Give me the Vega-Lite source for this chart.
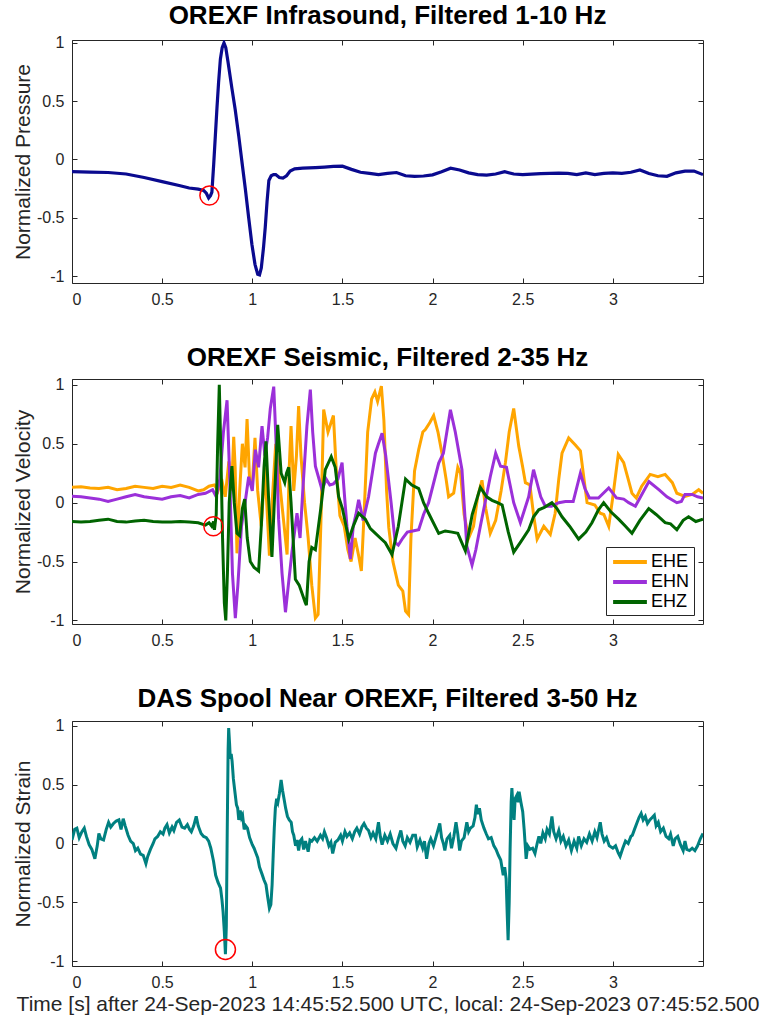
{
  "$schema": "https://vega.github.io/schema/vega-lite/v6.json",
  "background": "white",
  "padding": {"left": 11, "top": 2, "right": 0, "bottom": 0},
  "spacing": 36,
  "resolve": {"legend": {"color": "independent"}},
  "config": {
    "font": "Liberation Sans",
    "view": {"stroke": "#262626", "strokeWidth": 1},
    "axis": {
      "grid": false,
      "domain": false,
      "tickColor": "#262626",
      "tickSize": -5,
      "labelPadding": 13,
      "labelColor": "#262626",
      "labelFont": "Liberation Sans",
      "labelFontSize": 16,
      "titleFont": "Liberation Sans",
      "titleFontSize": 21,
      "titleFontWeight": "normal",
      "titleColor": "#262626",
      "titlePadding": 3,
      "format": "~g",
      "labelExpr": "replace(datum.label, '−', '-')"
    },
    "title": {"font": "Liberation Sans", "fontSize": 26, "fontWeight": "bold", "color": "black", "anchor": "middle", "offset": 6},
    "legend": {"labelFont": "Liberation Sans", "labelFontSize": 18, "labelColor": "black"}
  },
  "datasets": {
    "infra": [
      {"t":0,"v":-0.105},{"t":0.1,"v":-0.108},{"t":0.2,"v":-0.112},{"t":0.3,"v":-0.125},{"t":0.4,"v":-0.155},{"t":0.5,"v":-0.19},{"t":0.6,"v":-0.225},{"t":0.65,"v":-0.245},{"t":0.7,"v":-0.255},{"t":0.73,"v":-0.265},{"t":0.745,"v":-0.29},{"t":0.758,"v":-0.33},{"t":0.768,"v":-0.31},{"t":0.776,"v":-0.28},{"t":0.786,"v":-0.04},{"t":0.795,"v":0.2},{"t":0.804,"v":0.44},{"t":0.813,"v":0.66},{"t":0.823,"v":0.86},{"t":0.833,"v":0.96},{"t":0.843,"v":1.0},{"t":0.853,"v":0.96},{"t":0.865,"v":0.84},{"t":0.887,"v":0.61},{"t":0.905,"v":0.43},{"t":0.925,"v":0.2},{"t":0.945,"v":-0.05},{"t":0.962,"v":-0.26},{"t":0.98,"v":-0.5},{"t":0.998,"v":-0.73},{"t":1.015,"v":-0.9},{"t":1.03,"v":-0.985},{"t":1.04,"v":-0.99},{"t":1.05,"v":-0.93},{"t":1.062,"v":-0.76},{"t":1.072,"v":-0.58},{"t":1.082,"v":-0.36},{"t":1.092,"v":-0.18},{"t":1.105,"v":-0.14},{"t":1.118,"v":-0.13},{"t":1.13,"v":-0.13},{"t":1.15,"v":-0.155},{"t":1.17,"v":-0.16},{"t":1.19,"v":-0.14},{"t":1.21,"v":-0.1},{"t":1.235,"v":-0.08},{"t":1.28,"v":-0.075},{"t":1.35,"v":-0.07},{"t":1.4,"v":-0.065},{"t":1.45,"v":-0.06},{"t":1.5,"v":-0.058},{"t":1.55,"v":-0.085},{"t":1.6,"v":-0.11},{"t":1.65,"v":-0.12},{"t":1.7,"v":-0.13},{"t":1.75,"v":-0.12},{"t":1.8,"v":-0.112},{"t":1.85,"v":-0.14},{"t":1.9,"v":-0.145},{"t":1.95,"v":-0.142},{"t":2.0,"v":-0.132},{"t":2.05,"v":-0.105},{"t":2.1,"v":-0.075},{"t":2.15,"v":-0.09},{"t":2.2,"v":-0.115},{"t":2.25,"v":-0.13},{"t":2.3,"v":-0.135},{"t":2.35,"v":-0.125},{"t":2.4,"v":-0.105},{"t":2.45,"v":-0.125},{"t":2.5,"v":-0.13},{"t":2.55,"v":-0.125},{"t":2.6,"v":-0.122},{"t":2.65,"v":-0.12},{"t":2.7,"v":-0.118},{"t":2.75,"v":-0.12},{"t":2.8,"v":-0.13},{"t":2.85,"v":-0.115},{"t":2.9,"v":-0.13},{"t":2.95,"v":-0.12},{"t":3.0,"v":-0.115},{"t":3.05,"v":-0.12},{"t":3.1,"v":-0.11},{"t":3.15,"v":-0.09},{"t":3.2,"v":-0.12},{"t":3.25,"v":-0.14},{"t":3.3,"v":-0.145},{"t":3.35,"v":-0.115},{"t":3.4,"v":-0.1},{"t":3.45,"v":-0.1},{"t":3.5,"v":-0.13}
    ],
    "seis": [
      {"ch":"EHE","t":0,"v":0.13},{"ch":"EHE","t":0.05,"v":0.135},{"ch":"EHE","t":0.1,"v":0.125},{"ch":"EHE","t":0.15,"v":0.12},{"ch":"EHE","t":0.2,"v":0.13},{"ch":"EHE","t":0.25,"v":0.11},{"ch":"EHE","t":0.3,"v":0.12},{"ch":"EHE","t":0.35,"v":0.14},{"ch":"EHE","t":0.4,"v":0.13},{"ch":"EHE","t":0.45,"v":0.12},{"ch":"EHE","t":0.5,"v":0.14},{"ch":"EHE","t":0.55,"v":0.13},{"ch":"EHE","t":0.6,"v":0.15},{"ch":"EHE","t":0.65,"v":0.13},{"ch":"EHE","t":0.7,"v":0.1},{"ch":"EHE","t":0.73,"v":0.11},{"ch":"EHE","t":0.76,"v":0.14},{"ch":"EHE","t":0.79,"v":0.15},{"ch":"EHE","t":0.81,"v":0.1},{"ch":"EHE","t":0.83,"v":0.2},{"ch":"EHE","t":0.85,"v":0.05},{"ch":"EHE","t":0.87,"v":0.35},{"ch":"EHE","t":0.885,"v":0.1},{"ch":"EHE","t":0.897,"v":0.56},{"ch":"EHE","t":0.905,"v":0.3},{"ch":"EHE","t":0.915,"v":-0.43},{"ch":"EHE","t":0.93,"v":0.1},{"ch":"EHE","t":0.945,"v":0.5},{"ch":"EHE","t":0.96,"v":0.3},{"ch":"EHE","t":0.971,"v":0.71},{"ch":"EHE","t":0.985,"v":0.2},{"ch":"EHE","t":1.0,"v":0.15},{"ch":"EHE","t":1.015,"v":0.55},{"ch":"EHE","t":1.03,"v":0.1},{"ch":"EHE","t":1.05,"v":-0.2},{"ch":"EHE","t":1.07,"v":0.3},{"ch":"EHE","t":1.095,"v":-0.45},{"ch":"EHE","t":1.11,"v":0.0},{"ch":"EHE","t":1.13,"v":0.5},{"ch":"EHE","t":1.15,"v":0.2},{"ch":"EHE","t":1.17,"v":-0.1},{"ch":"EHE","t":1.193,"v":-0.44},{"ch":"EHE","t":1.205,"v":0.3},{"ch":"EHE","t":1.215,"v":0.65},{"ch":"EHE","t":1.23,"v":0.1},{"ch":"EHE","t":1.245,"v":0.4},{"ch":"EHE","t":1.257,"v":0.82},{"ch":"EHE","t":1.27,"v":0.4},{"ch":"EHE","t":1.29,"v":0.0},{"ch":"EHE","t":1.31,"v":-0.3},{"ch":"EHE","t":1.33,"v":-0.7},{"ch":"EHE","t":1.35,"v":-0.98},{"ch":"EHE","t":1.365,"v":-0.95},{"ch":"EHE","t":1.38,"v":-0.2},{"ch":"EHE","t":1.396,"v":0.79},{"ch":"EHE","t":1.42,"v":0.6},{"ch":"EHE","t":1.45,"v":0.74},{"ch":"EHE","t":1.465,"v":0.3},{"ch":"EHE","t":1.486,"v":-0.11},{"ch":"EHE","t":1.51,"v":-0.2},{"ch":"EHE","t":1.53,"v":-0.4},{"ch":"EHE","t":1.548,"v":-0.5},{"ch":"EHE","t":1.57,"v":-0.3},{"ch":"EHE","t":1.59,"v":-0.45},{"ch":"EHE","t":1.605,"v":-0.58},{"ch":"EHE","t":1.62,"v":-0.1},{"ch":"EHE","t":1.64,"v":0.6},{"ch":"EHE","t":1.662,"v":0.88},{"ch":"EHE","t":1.68,"v":0.94},{"ch":"EHE","t":1.695,"v":0.86},{"ch":"EHE","t":1.716,"v":0.99},{"ch":"EHE","t":1.73,"v":0.7},{"ch":"EHE","t":1.745,"v":0.1},{"ch":"EHE","t":1.757,"v":-0.21},{"ch":"EHE","t":1.78,"v":-0.5},{"ch":"EHE","t":1.81,"v":-0.7},{"ch":"EHE","t":1.835,"v":-0.75},{"ch":"EHE","t":1.85,"v":-0.92},{"ch":"EHE","t":1.867,"v":-0.95},{"ch":"EHE","t":1.88,"v":-0.3},{"ch":"EHE","t":1.9,"v":0.27},{"ch":"EHE","t":1.923,"v":0.45},{"ch":"EHE","t":1.946,"v":0.6},{"ch":"EHE","t":1.96,"v":0.62},{"ch":"EHE","t":1.985,"v":0.68},{"ch":"EHE","t":2.006,"v":0.74},{"ch":"EHE","t":2.03,"v":0.6},{"ch":"EHE","t":2.052,"v":0.42},{"ch":"EHE","t":2.075,"v":0.2},{"ch":"EHE","t":2.089,"v":0.05},{"ch":"EHE","t":2.117,"v":0.08},{"ch":"EHE","t":2.14,"v":0.3},{"ch":"EHE","t":2.155,"v":0.25},{"ch":"EHE","t":2.175,"v":-0.1},{"ch":"EHE","t":2.2,"v":-0.3},{"ch":"EHE","t":2.227,"v":-0.2},{"ch":"EHE","t":2.25,"v":0.05},{"ch":"EHE","t":2.274,"v":0.19},{"ch":"EHE","t":2.295,"v":-0.05},{"ch":"EHE","t":2.32,"v":-0.26},{"ch":"EHE","t":2.35,"v":-0.15},{"ch":"EHE","t":2.38,"v":0.1},{"ch":"EHE","t":2.404,"v":0.34},{"ch":"EHE","t":2.425,"v":0.6},{"ch":"EHE","t":2.45,"v":0.8},{"ch":"EHE","t":2.478,"v":0.48},{"ch":"EHE","t":2.5,"v":0.3},{"ch":"EHE","t":2.515,"v":0.17},{"ch":"EHE","t":2.54,"v":0.15},{"ch":"EHE","t":2.56,"v":-0.1},{"ch":"EHE","t":2.58,"v":-0.31},{"ch":"EHE","t":2.617,"v":-0.2},{"ch":"EHE","t":2.653,"v":-0.27},{"ch":"EHE","t":2.68,"v":-0.09},{"ch":"EHE","t":2.7,"v":0.2},{"ch":"EHE","t":2.718,"v":0.42},{"ch":"EHE","t":2.755,"v":0.55},{"ch":"EHE","t":2.792,"v":0.49},{"ch":"EHE","t":2.82,"v":0.44},{"ch":"EHE","t":2.84,"v":0.2},{"ch":"EHE","t":2.857,"v":0.0},{"ch":"EHE","t":2.9,"v":-0.02},{"ch":"EHE","t":2.93,"v":-0.09},{"ch":"EHE","t":2.95,"v":-0.1},{"ch":"EHE","t":2.977,"v":-0.2},{"ch":"EHE","t":3.0,"v":0.05},{"ch":"EHE","t":3.03,"v":0.41},{"ch":"EHE","t":3.06,"v":0.34},{"ch":"EHE","t":3.085,"v":0.2},{"ch":"EHE","t":3.106,"v":0.08},{"ch":"EHE","t":3.13,"v":0.04},{"ch":"EHE","t":3.16,"v":0.14},{"ch":"EHE","t":3.207,"v":0.24},{"ch":"EHE","t":3.25,"v":0.22},{"ch":"EHE","t":3.29,"v":0.24},{"ch":"EHE","t":3.33,"v":0.17},{"ch":"EHE","t":3.355,"v":0.08},{"ch":"EHE","t":3.4,"v":0.054},{"ch":"EHE","t":3.44,"v":0.07},{"ch":"EHE","t":3.476,"v":0.11},{"ch":"EHE","t":3.5,"v":0.08},
      {"ch":"EHN","t":0,"v":0.055},{"ch":"EHN","t":0.05,"v":0.05},{"ch":"EHN","t":0.1,"v":0.04},{"ch":"EHN","t":0.15,"v":0.03},{"ch":"EHN","t":0.2,"v":0.01},{"ch":"EHN","t":0.25,"v":0.03},{"ch":"EHN","t":0.3,"v":0.05},{"ch":"EHN","t":0.35,"v":0.07},{"ch":"EHN","t":0.4,"v":0.05},{"ch":"EHN","t":0.45,"v":0.04},{"ch":"EHN","t":0.5,"v":0.03},{"ch":"EHN","t":0.55,"v":0.05},{"ch":"EHN","t":0.6,"v":0.06},{"ch":"EHN","t":0.65,"v":0.04},{"ch":"EHN","t":0.7,"v":0.07},{"ch":"EHN","t":0.74,"v":0.08},{"ch":"EHN","t":0.78,"v":0.11},{"ch":"EHN","t":0.8,"v":0.05},{"ch":"EHN","t":0.82,"v":0.2},{"ch":"EHN","t":0.84,"v":0.6},{"ch":"EHN","t":0.86,"v":0.87},{"ch":"EHN","t":0.875,"v":0.2},{"ch":"EHN","t":0.89,"v":-0.6},{"ch":"EHN","t":0.906,"v":-0.98},{"ch":"EHN","t":0.92,"v":-0.7},{"ch":"EHN","t":0.94,"v":-0.2},{"ch":"EHN","t":0.96,"v":0.0},{"ch":"EHN","t":0.98,"v":0.22},{"ch":"EHN","t":1.0,"v":0.1},{"ch":"EHN","t":1.017,"v":0.45},{"ch":"EHN","t":1.035,"v":0.3},{"ch":"EHN","t":1.054,"v":0.65},{"ch":"EHN","t":1.07,"v":0.4},{"ch":"EHN","t":1.085,"v":0.55},{"ch":"EHN","t":1.1,"v":0.8},{"ch":"EHN","t":1.119,"v":0.985},{"ch":"EHN","t":1.135,"v":0.4},{"ch":"EHN","t":1.146,"v":-0.14},{"ch":"EHN","t":1.165,"v":-0.6},{"ch":"EHN","t":1.184,"v":-0.93},{"ch":"EHN","t":1.2,"v":-0.7},{"ch":"EHN","t":1.22,"v":-0.42},{"ch":"EHN","t":1.248,"v":-0.09},{"ch":"EHN","t":1.265,"v":-0.3},{"ch":"EHN","t":1.28,"v":0.1},{"ch":"EHN","t":1.303,"v":0.65},{"ch":"EHN","t":1.322,"v":0.96},{"ch":"EHN","t":1.335,"v":0.6},{"ch":"EHN","t":1.35,"v":0.31},{"ch":"EHN","t":1.387,"v":0.11},{"ch":"EHN","t":1.41,"v":0.2},{"ch":"EHN","t":1.43,"v":0.15},{"ch":"EHN","t":1.45,"v":0.16},{"ch":"EHN","t":1.475,"v":0.2},{"ch":"EHN","t":1.498,"v":0.34},{"ch":"EHN","t":1.512,"v":0.05},{"ch":"EHN","t":1.525,"v":-0.2},{"ch":"EHN","t":1.544,"v":-0.48},{"ch":"EHN","t":1.56,"v":-0.2},{"ch":"EHN","t":1.575,"v":-0.1},{"ch":"EHN","t":1.59,"v":0.025},{"ch":"EHN","t":1.615,"v":-0.15},{"ch":"EHN","t":1.645,"v":0.05},{"ch":"EHN","t":1.683,"v":0.42},{"ch":"EHN","t":1.7,"v":0.5},{"ch":"EHN","t":1.72,"v":0.59},{"ch":"EHN","t":1.74,"v":0.4},{"ch":"EHN","t":1.77,"v":0.0},{"ch":"EHN","t":1.793,"v":-0.34},{"ch":"EHN","t":1.81,"v":-0.36},{"ch":"EHN","t":1.835,"v":-0.3},{"ch":"EHN","t":1.86,"v":-0.25},{"ch":"EHN","t":1.89,"v":-0.24},{"ch":"EHN","t":1.923,"v":-0.23},{"ch":"EHN","t":1.95,"v":-0.1},{"ch":"EHN","t":1.978,"v":0.0},{"ch":"EHN","t":2.034,"v":0.336},{"ch":"EHN","t":2.06,"v":0.42},{"ch":"EHN","t":2.099,"v":0.788},{"ch":"EHN","t":2.126,"v":0.6},{"ch":"EHN","t":2.163,"v":0.28},{"ch":"EHN","t":2.19,"v":-0.37},{"ch":"EHN","t":2.219,"v":-0.53},{"ch":"EHN","t":2.24,"v":-0.4},{"ch":"EHN","t":2.265,"v":-0.2},{"ch":"EHN","t":2.32,"v":0.22},{"ch":"EHN","t":2.35,"v":0.42},{"ch":"EHN","t":2.377,"v":0.31},{"ch":"EHN","t":2.41,"v":0.3},{"ch":"EHN","t":2.45,"v":0.0},{"ch":"EHN","t":2.487,"v":-0.17},{"ch":"EHN","t":2.533,"v":0.05},{"ch":"EHN","t":2.56,"v":0.28},{"ch":"EHN","t":2.6,"v":0.05},{"ch":"EHN","t":2.625,"v":-0.03},{"ch":"EHN","t":2.66,"v":-0.03},{"ch":"EHN","t":2.7,"v":0.0},{"ch":"EHN","t":2.737,"v":0.01},{"ch":"EHN","t":2.78,"v":0.01},{"ch":"EHN","t":2.82,"v":0.25},{"ch":"EHN","t":2.845,"v":0.12},{"ch":"EHN","t":2.87,"v":0.04},{"ch":"EHN","t":2.92,"v":0.04},{"ch":"EHN","t":2.977,"v":0.125},{"ch":"EHN","t":3.02,"v":0.04},{"ch":"EHN","t":3.06,"v":0.03},{"ch":"EHN","t":3.088,"v":0.0},{"ch":"EHN","t":3.125,"v":-0.03},{"ch":"EHN","t":3.2,"v":0.18},{"ch":"EHN","t":3.255,"v":0.11},{"ch":"EHN","t":3.3,"v":0.05},{"ch":"EHN","t":3.355,"v":0.0},{"ch":"EHN","t":3.38,"v":0.01},{"ch":"EHN","t":3.4,"v":0.07},{"ch":"EHN","t":3.44,"v":0.07},{"ch":"EHN","t":3.47,"v":0.05},{"ch":"EHN","t":3.5,"v":0.04},
      {"ch":"EHZ","t":0,"v":-0.16},{"ch":"EHZ","t":0.05,"v":-0.165},{"ch":"EHZ","t":0.1,"v":-0.16},{"ch":"EHZ","t":0.15,"v":-0.15},{"ch":"EHZ","t":0.2,"v":-0.14},{"ch":"EHZ","t":0.25,"v":-0.16},{"ch":"EHZ","t":0.3,"v":-0.165},{"ch":"EHZ","t":0.35,"v":-0.155},{"ch":"EHZ","t":0.4,"v":-0.15},{"ch":"EHZ","t":0.45,"v":-0.16},{"ch":"EHZ","t":0.5,"v":-0.165},{"ch":"EHZ","t":0.55,"v":-0.165},{"ch":"EHZ","t":0.6,"v":-0.16},{"ch":"EHZ","t":0.65,"v":-0.165},{"ch":"EHZ","t":0.7,"v":-0.17},{"ch":"EHZ","t":0.74,"v":-0.19},{"ch":"EHZ","t":0.76,"v":-0.17},{"ch":"EHZ","t":0.775,"v":-0.2},{"ch":"EHZ","t":0.785,"v":-0.16},{"ch":"EHZ","t":0.79,"v":-0.23},{"ch":"EHZ","t":0.8,"v":-0.1},{"ch":"EHZ","t":0.808,"v":0.5},{"ch":"EHZ","t":0.817,"v":1.0},{"ch":"EHZ","t":0.826,"v":0.4},{"ch":"EHZ","t":0.835,"v":-0.3},{"ch":"EHZ","t":0.845,"v":-0.85},{"ch":"EHZ","t":0.853,"v":-1.0},{"ch":"EHZ","t":0.862,"v":-0.6},{"ch":"EHZ","t":0.872,"v":0.0},{"ch":"EHZ","t":0.887,"v":0.31},{"ch":"EHZ","t":0.9,"v":0.0},{"ch":"EHZ","t":0.915,"v":-0.26},{"ch":"EHZ","t":0.93,"v":-0.28},{"ch":"EHZ","t":0.945,"v":-0.05},{"ch":"EHZ","t":0.958,"v":0.03},{"ch":"EHZ","t":0.972,"v":-0.3},{"ch":"EHZ","t":0.989,"v":-0.5},{"ch":"EHZ","t":1.01,"v":-0.55},{"ch":"EHZ","t":1.035,"v":-0.58},{"ch":"EHZ","t":1.05,"v":-0.2},{"ch":"EHZ","t":1.065,"v":0.3},{"ch":"EHZ","t":1.076,"v":0.52},{"ch":"EHZ","t":1.09,"v":0.05},{"ch":"EHZ","t":1.109,"v":-0.46},{"ch":"EHZ","t":1.125,"v":0.1},{"ch":"EHZ","t":1.141,"v":0.66},{"ch":"EHZ","t":1.16,"v":0.25},{"ch":"EHZ","t":1.18,"v":0.17},{"ch":"EHZ","t":1.19,"v":0.25},{"ch":"EHZ","t":1.202,"v":0.3},{"ch":"EHZ","t":1.215,"v":0.0},{"ch":"EHZ","t":1.239,"v":-0.65},{"ch":"EHZ","t":1.26,"v":-0.7},{"ch":"EHZ","t":1.294,"v":-0.85},{"ch":"EHZ","t":1.3,"v":-0.87},{"ch":"EHZ","t":1.315,"v":-0.5},{"ch":"EHZ","t":1.33,"v":-0.38},{"ch":"EHZ","t":1.35,"v":-0.4},{"ch":"EHZ","t":1.38,"v":-0.05},{"ch":"EHZ","t":1.405,"v":0.28},{"ch":"EHZ","t":1.438,"v":0.39},{"ch":"EHZ","t":1.46,"v":0.3},{"ch":"EHZ","t":1.479,"v":0.05},{"ch":"EHZ","t":1.5,"v":-0.05},{"ch":"EHZ","t":1.535,"v":-0.31},{"ch":"EHZ","t":1.56,"v":-0.2},{"ch":"EHZ","t":1.59,"v":-0.09},{"ch":"EHZ","t":1.627,"v":-0.14},{"ch":"EHZ","t":1.655,"v":-0.22},{"ch":"EHZ","t":1.683,"v":-0.26},{"ch":"EHZ","t":1.71,"v":-0.3},{"ch":"EHZ","t":1.738,"v":-0.34},{"ch":"EHZ","t":1.775,"v":-0.44},{"ch":"EHZ","t":1.81,"v":-0.2},{"ch":"EHZ","t":1.85,"v":0.2},{"ch":"EHZ","t":1.885,"v":0.15},{"ch":"EHZ","t":1.923,"v":0.12},{"ch":"EHZ","t":1.95,"v":0.0},{"ch":"EHZ","t":1.978,"v":-0.09},{"ch":"EHZ","t":2.034,"v":-0.26},{"ch":"EHZ","t":2.07,"v":-0.24},{"ch":"EHZ","t":2.108,"v":-0.25},{"ch":"EHZ","t":2.14,"v":-0.26},{"ch":"EHZ","t":2.182,"v":-0.41},{"ch":"EHZ","t":2.22,"v":-0.1},{"ch":"EHZ","t":2.265,"v":0.13},{"ch":"EHZ","t":2.3,"v":0.05},{"ch":"EHZ","t":2.33,"v":0.02},{"ch":"EHZ","t":2.36,"v":0.0},{"ch":"EHZ","t":2.386,"v":-0.02},{"ch":"EHZ","t":2.42,"v":-0.25},{"ch":"EHZ","t":2.45,"v":-0.42},{"ch":"EHZ","t":2.49,"v":-0.33},{"ch":"EHZ","t":2.533,"v":-0.23},{"ch":"EHZ","t":2.56,"v":-0.12},{"ch":"EHZ","t":2.589,"v":-0.06},{"ch":"EHZ","t":2.62,"v":-0.04},{"ch":"EHZ","t":2.662,"v":0.0},{"ch":"EHZ","t":2.69,"v":-0.05},{"ch":"EHZ","t":2.718,"v":-0.12},{"ch":"EHZ","t":2.76,"v":-0.2},{"ch":"EHZ","t":2.81,"v":-0.31},{"ch":"EHZ","t":2.85,"v":-0.25},{"ch":"EHZ","t":2.884,"v":-0.17},{"ch":"EHZ","t":2.92,"v":-0.06},{"ch":"EHZ","t":2.949,"v":0.0},{"ch":"EHZ","t":2.99,"v":-0.08},{"ch":"EHZ","t":3.032,"v":-0.14},{"ch":"EHZ","t":3.07,"v":-0.2},{"ch":"EHZ","t":3.106,"v":-0.26},{"ch":"EHZ","t":3.15,"v":-0.15},{"ch":"EHZ","t":3.199,"v":-0.05},{"ch":"EHZ","t":3.24,"v":-0.1},{"ch":"EHZ","t":3.29,"v":-0.17},{"ch":"EHZ","t":3.32,"v":-0.18},{"ch":"EHZ","t":3.355,"v":-0.23},{"ch":"EHZ","t":3.39,"v":-0.15},{"ch":"EHZ","t":3.42,"v":-0.12},{"ch":"EHZ","t":3.46,"v":-0.16},{"ch":"EHZ","t":3.5,"v":-0.14}
    ],
    "das": [
      {"t":0,"v":0.03},{"t":0.015,"v":0.12},{"t":0.027,"v":0.13},{"t":0.04,"v":0.05},{"t":0.055,"v":0.1},{"t":0.068,"v":0.13},{"t":0.08,"v":0.06},{"t":0.095,"v":-0.01},{"t":0.11,"v":-0.05},{"t":0.127,"v":-0.13},{"t":0.14,"v":-0.02},{"t":0.149,"v":0.085},{"t":0.16,"v":0.04},{"t":0.175,"v":0.03},{"t":0.19,"v":0.12},{"t":0.203,"v":0.18},{"t":0.215,"v":0.14},{"t":0.23,"v":0.17},{"t":0.245,"v":0.19},{"t":0.26,"v":0.2},{"t":0.272,"v":0.12},{"t":0.284,"v":0.21},{"t":0.295,"v":0.15},{"t":0.311,"v":0.07},{"t":0.325,"v":0.02},{"t":0.34,"v":0.0},{"t":0.352,"v":-0.06},{"t":0.365,"v":-0.04},{"t":0.38,"v":-0.09},{"t":0.395,"v":-0.1},{"t":0.41,"v":-0.17},{"t":0.42,"v":-0.11},{"t":0.435,"v":-0.05},{"t":0.45,"v":0.0},{"t":0.46,"v":0.04},{"t":0.475,"v":0.06},{"t":0.49,"v":0.1},{"t":0.505,"v":0.08},{"t":0.515,"v":0.13},{"t":0.527,"v":0.16},{"t":0.54,"v":0.09},{"t":0.555,"v":0.14},{"t":0.565,"v":0.11},{"t":0.58,"v":0.18},{"t":0.595,"v":0.2},{"t":0.61,"v":0.14},{"t":0.625,"v":0.13},{"t":0.64,"v":0.16},{"t":0.652,"v":0.12},{"t":0.662,"v":0.1},{"t":0.675,"v":0.15},{"t":0.689,"v":0.23},{"t":0.7,"v":0.15},{"t":0.716,"v":0.085},{"t":0.73,"v":0.06},{"t":0.745,"v":0.05},{"t":0.758,"v":0.02},{"t":0.77,"v":-0.04},{"t":0.785,"v":-0.15},{"t":0.797,"v":-0.27},{"t":0.81,"v":-0.33},{"t":0.824,"v":-0.38},{"t":0.832,"v":-0.48},{"t":0.838,"v":-0.58},{"t":0.845,"v":-0.75},{"t":0.851,"v":-0.94},{"t":0.856,"v":-0.7},{"t":0.861,"v":0.1},{"t":0.866,"v":0.8},{"t":0.869,"v":0.98},{"t":0.874,"v":0.85},{"t":0.878,"v":0.72},{"t":0.883,"v":0.76},{"t":0.888,"v":0.7},{"t":0.895,"v":0.55},{"t":0.905,"v":0.42},{"t":0.912,"v":0.33},{"t":0.919,"v":0.3},{"t":0.925,"v":0.2},{"t":0.933,"v":0.28},{"t":0.94,"v":0.22},{"t":0.946,"v":0.24},{"t":0.955,"v":0.12},{"t":0.963,"v":0.15},{"t":0.973,"v":0.13},{"t":0.985,"v":0.05},{"t":1.0,"v":-0.01},{"t":1.01,"v":-0.04},{"t":1.02,"v":-0.08},{"t":1.03,"v":-0.12},{"t":1.04,"v":-0.2},{"t":1.054,"v":-0.26},{"t":1.065,"v":-0.31},{"t":1.076,"v":-0.35},{"t":1.085,"v":-0.45},{"t":1.095,"v":-0.55},{"t":1.103,"v":-0.52},{"t":1.11,"v":-0.35},{"t":1.116,"v":-0.1},{"t":1.122,"v":0.13},{"t":1.128,"v":0.3},{"t":1.135,"v":0.38},{"t":1.142,"v":0.35},{"t":1.15,"v":0.42},{"t":1.16,"v":0.54},{"t":1.168,"v":0.45},{"t":1.176,"v":0.38},{"t":1.185,"v":0.3},{"t":1.195,"v":0.23},{"t":1.205,"v":0.2},{"t":1.216,"v":0.18},{"t":1.223,"v":0.1},{"t":1.23,"v":0.07},{"t":1.24,"v":-0.02},{"t":1.248,"v":0.03},{"t":1.257,"v":-0.06},{"t":1.265,"v":0.02},{"t":1.275,"v":0.04},{"t":1.285,"v":-0.05},{"t":1.295,"v":0.02},{"t":1.31,"v":-0.07},{"t":1.32,"v":0.03},{"t":1.33,"v":0.02},{"t":1.345,"v":0.05},{"t":1.36,"v":0.02},{"t":1.378,"v":0.07},{"t":1.39,"v":0.04},{"t":1.4,"v":0.1},{"t":1.412,"v":0.05},{"t":1.425,"v":-0.02},{"t":1.436,"v":0.01},{"t":1.446,"v":-0.085},{"t":1.46,"v":0.01},{"t":1.475,"v":0.03},{"t":1.49,"v":0.07},{"t":1.5,"v":0.02},{"t":1.514,"v":0.1},{"t":1.525,"v":0.06},{"t":1.54,"v":0.09},{"t":1.555,"v":0.04},{"t":1.568,"v":0.1},{"t":1.58,"v":0.13},{"t":1.595,"v":0.08},{"t":1.608,"v":0.14},{"t":1.62,"v":0.17},{"t":1.633,"v":0.13},{"t":1.645,"v":0.11},{"t":1.658,"v":0.05},{"t":1.67,"v":0.09},{"t":1.685,"v":0.04},{"t":1.7,"v":0.18},{"t":1.71,"v":0.06},{"t":1.72,"v":-0.01},{"t":1.735,"v":0.07},{"t":1.75,"v":0.02},{"t":1.765,"v":0.08},{"t":1.78,"v":0.0},{"t":1.797,"v":-0.04},{"t":1.81,"v":0.04},{"t":1.824,"v":0.11},{"t":1.835,"v":0.02},{"t":1.848,"v":-0.02},{"t":1.86,"v":0.05},{"t":1.875,"v":0.01},{"t":1.89,"v":0.07},{"t":1.905,"v":0.07},{"t":1.915,"v":-0.03},{"t":1.93,"v":0.03},{"t":1.945,"v":-0.04},{"t":1.955,"v":0.02},{"t":1.967,"v":-0.13},{"t":1.98,"v":0.0},{"t":1.99,"v":0.04},{"t":2.005,"v":-0.02},{"t":2.02,"v":0.06},{"t":2.04,"v":0.17},{"t":2.05,"v":0.05},{"t":2.06,"v":0.0},{"t":2.068,"v":-0.06},{"t":2.08,"v":0.04},{"t":2.095,"v":0.07},{"t":2.105,"v":-0.04},{"t":2.118,"v":0.06},{"t":2.13,"v":0.18},{"t":2.14,"v":0.08},{"t":2.15,"v":-0.06},{"t":2.16,"v":0.02},{"t":2.175,"v":0.05},{"t":2.19,"v":0.18},{"t":2.2,"v":0.1},{"t":2.21,"v":0.13},{"t":2.225,"v":0.15},{"t":2.235,"v":0.22},{"t":2.243,"v":0.33},{"t":2.25,"v":0.25},{"t":2.26,"v":0.3},{"t":2.27,"v":0.2},{"t":2.285,"v":0.13},{"t":2.297,"v":0.085},{"t":2.31,"v":0.04},{"t":2.325,"v":0.05},{"t":2.34,"v":-0.02},{"t":2.352,"v":-0.05},{"t":2.365,"v":-0.1},{"t":2.378,"v":-0.14},{"t":2.392,"v":-0.27},{"t":2.4,"v":-0.2},{"t":2.408,"v":-0.3},{"t":2.414,"v":-0.6},{"t":2.419,"v":-0.82},{"t":2.425,"v":-0.5},{"t":2.43,"v":-0.05},{"t":2.436,"v":0.35},{"t":2.44,"v":0.47},{"t":2.446,"v":0.3},{"t":2.452,"v":0.2},{"t":2.458,"v":0.38},{"t":2.468,"v":0.41},{"t":2.475,"v":0.35},{"t":2.48,"v":0.44},{"t":2.49,"v":0.35},{"t":2.5,"v":0.27},{"t":2.508,"v":0.12},{"t":2.519,"v":-0.13},{"t":2.528,"v":-0.02},{"t":2.54,"v":-0.05},{"t":2.555,"v":-0.04},{"t":2.568,"v":-0.085},{"t":2.58,"v":0.0},{"t":2.59,"v":0.06},{"t":2.6,"v":0.0},{"t":2.612,"v":0.09},{"t":2.625,"v":0.04},{"t":2.635,"v":0.12},{"t":2.648,"v":0.08},{"t":2.662,"v":0.23},{"t":2.672,"v":0.1},{"t":2.685,"v":0.04},{"t":2.7,"v":0.11},{"t":2.712,"v":0.02},{"t":2.725,"v":0.06},{"t":2.74,"v":-0.02},{"t":2.755,"v":0.03},{"t":2.77,"v":-0.06},{"t":2.785,"v":0.02},{"t":2.8,"v":-0.04},{"t":2.81,"v":0.06},{"t":2.825,"v":-0.02},{"t":2.84,"v":0.04},{"t":2.855,"v":0.01},{"t":2.87,"v":0.08},{"t":2.885,"v":0.02},{"t":2.9,"v":0.1},{"t":2.912,"v":0.05},{"t":2.93,"v":0.18},{"t":2.94,"v":0.08},{"t":2.952,"v":0.02},{"t":2.965,"v":0.05},{"t":2.98,"v":-0.02},{"t":3.0,"v":-0.04},{"t":3.015,"v":-0.02},{"t":3.03,"v":-0.08},{"t":3.04,"v":-0.11},{"t":3.055,"v":-0.04},{"t":3.07,"v":0.02},{"t":3.085,"v":0.0},{"t":3.1,"v":0.06},{"t":3.108,"v":0.07},{"t":3.12,"v":0.12},{"t":3.135,"v":0.18},{"t":3.145,"v":0.22},{"t":3.157,"v":0.255},{"t":3.168,"v":0.2},{"t":3.18,"v":0.23},{"t":3.192,"v":0.17},{"t":3.205,"v":0.2},{"t":3.218,"v":0.22},{"t":3.23,"v":0.24},{"t":3.24,"v":0.15},{"t":3.252,"v":0.18},{"t":3.265,"v":0.1},{"t":3.28,"v":0.13},{"t":3.295,"v":0.06},{"t":3.31,"v":0.04},{"t":3.32,"v":0.08},{"t":3.335,"v":-0.02},{"t":3.345,"v":0.04},{"t":3.36,"v":0.06},{"t":3.375,"v":-0.01},{"t":3.39,"v":-0.06},{"t":3.4,"v":0.02},{"t":3.41,"v":-0.05},{"t":3.425,"v":-0.06},{"t":3.44,"v":-0.04},{"t":3.455,"v":-0.06},{"t":3.47,"v":-0.02},{"t":3.485,"v":0.04},{"t":3.5,"v":0.085}
    ],
    "circles": [
      {"panel":1,"t":0.762,"v":-0.31},
      {"panel":2,"t":0.784,"v":-0.2},
      {"panel":3,"t":0.851,"v":-0.9}
    ]
  },
  "vconcat": [
    {
      "title": "OREXF Infrasound, Filtered 1-10 Hz",
      "width": 631,
      "height": 243,
      "resolve": {"axis": {"x": "independent", "y": "independent"}},
      "layer": [
        {
          "data": {"name": "infra"},
          "mark": {"type": "line", "color": "#0A0A8F", "strokeWidth": 3.2, "clip": true},
          "encoding": {
            "x": {"field": "t", "type": "quantitative", "scale": {"domain": [0, 3.5], "nice": false, "zero": false}, "axis": {"values": [0, 0.5, 1, 1.5, 2, 2.5, 3], "title": null}},
            "y": {"field": "v", "type": "quantitative", "scale": {"domain": [-1.06, 1.025], "nice": false, "zero": false}, "axis": {"values": [-1, -0.5, 0, 0.5, 1], "title": "Normalized Pressure"}}
          }
        },
        {
          "data": {"name": "circles"},
          "transform": [{"filter": "datum.panel == 1"}],
          "mark": {"type": "point", "shape": "circle", "filled": false, "color": "#FF0000", "size": 360, "strokeWidth": 1.5, "opacity": 1},
          "encoding": {
            "x": {"field": "t", "type": "quantitative", "axis": {"orient": "top", "values": [0, 0.5, 1, 1.5, 2, 2.5, 3], "labels": false, "title": null}},
            "y": {"field": "v", "type": "quantitative", "axis": {"orient": "right", "values": [-1, -0.5, 0, 0.5, 1], "labels": false, "title": null}}
          }
        }
      ]
    },
    {
      "title": "OREXF Seismic, Filtered 2-35 Hz",
      "width": 631,
      "height": 245,
      "resolve": {"axis": {"x": "independent", "y": "independent"}},
      "layer": [
        {
          "data": {"name": "seis"},
          "mark": {"type": "line", "strokeWidth": 3, "clip": true},
          "encoding": {
            "x": {"field": "t", "type": "quantitative", "scale": {"domain": [0, 3.5], "nice": false, "zero": false}, "axis": {"values": [0, 0.5, 1, 1.5, 2, 2.5, 3], "title": null}},
            "y": {"field": "v", "type": "quantitative", "scale": {"domain": [-1.03, 1.05], "nice": false, "zero": false}, "axis": {"values": [-1, -0.5, 0, 0.5, 1], "title": "Normalized Velocity"}},
            "color": {
              "field": "ch", "type": "nominal",
              "scale": {"domain": ["EHE", "EHN", "EHZ"], "range": ["#FFA500", "#9B30D9", "#006400"]},
              "legend": {
                "title": null, "orient": "none", "legendX": 534, "legendY": 168,
                "symbolType": "M-1.95,0L1.95,0", "symbolStrokeWidth": 4, "symbolSize": 300,
                "symbolOffset": 9,
                "strokeColor": "#262626", "fillColor": "white", "padding": 4,
                "rowPadding": 0, "labelOffset": 10, "labelFontSize": 18
              }
            },
            "order": {"field": "t", "type": "quantitative"}
          }
        },
        {
          "data": {"name": "circles"},
          "transform": [{"filter": "datum.panel == 2"}],
          "mark": {"type": "point", "shape": "circle", "filled": false, "color": "#FF0000", "size": 360, "strokeWidth": 1.5, "opacity": 1},
          "encoding": {
            "x": {"field": "t", "type": "quantitative", "axis": {"orient": "top", "values": [0, 0.5, 1, 1.5, 2, 2.5, 3], "labels": false, "title": null}},
            "y": {"field": "v", "type": "quantitative", "axis": {"orient": "right", "values": [-1, -0.5, 0, 0.5, 1], "labels": false, "title": null}}
          }
        }
      ]
    },
    {
      "title": "DAS Spool Near OREXF, Filtered 3-50 Hz",
      "width": 631,
      "height": 245,
      "resolve": {"axis": {"x": "independent", "y": "independent"}},
      "layer": [
        {
          "data": {"name": "das"},
          "mark": {"type": "line", "color": "#008080", "strokeWidth": 3, "clip": true},
          "encoding": {
            "x": {"field": "t", "type": "quantitative", "scale": {"domain": [0, 3.5], "nice": false, "zero": false}, "axis": {"values": [0, 0.5, 1, 1.5, 2, 2.5, 3], "title": "Time [s] after 24-Sep-2023 14:45:52.500 UTC, local: 24-Sep-2023 07:45:52.500", "titlePadding": 3, "titleFontSize": 21}},
            "y": {"field": "v", "type": "quantitative", "scale": {"domain": [-1.04, 1.04], "nice": false, "zero": false}, "axis": {"values": [-1, -0.5, 0, 0.5, 1], "title": "Normalized Strain"}}
          }
        },
        {
          "data": {"name": "circles"},
          "transform": [{"filter": "datum.panel == 3"}],
          "mark": {"type": "point", "shape": "circle", "filled": false, "color": "#FF0000", "size": 400, "strokeWidth": 1.5, "opacity": 1},
          "encoding": {
            "x": {"field": "t", "type": "quantitative", "axis": {"orient": "top", "values": [0, 0.5, 1, 1.5, 2, 2.5, 3], "labels": false, "title": null}},
            "y": {"field": "v", "type": "quantitative", "axis": {"orient": "right", "values": [-1, -0.5, 0, 0.5, 1], "labels": false, "title": null}}
          }
        }
      ]
    }
  ]
}
